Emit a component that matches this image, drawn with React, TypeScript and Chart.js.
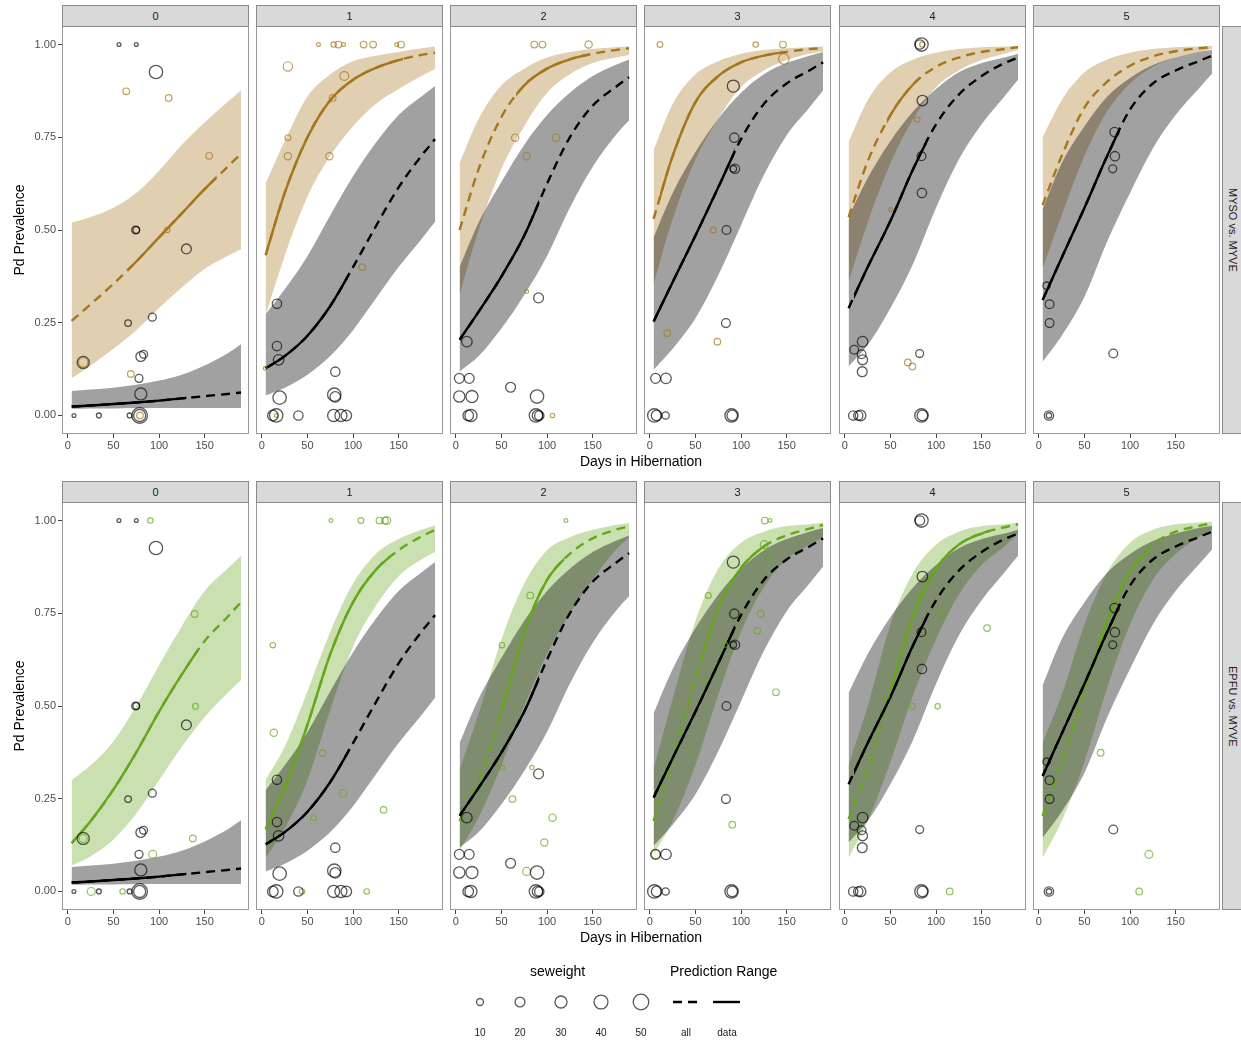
import React, { useEffect, useRef } from 'react';
import { Chart, registerables } from 'chart.js';

Chart.register(...registerables);

const FONT = '"Liberation Sans", Arial, Helvetica, sans-serif';
Chart.defaults.font.family = FONT;

// ---------- axes / labels ----------
const DAYS = [4, 25, 50, 75, 100, 125, 150, 175, 190];
const X_TICKS = [0, 50, 100, 150];
const Y_TICKS = [0, 0.25, 0.5, 0.75, 1];
const PERIODS = ['0', '1', '2', '3', '4', '5'];
const ROW_LABELS = ['MYSO vs. MYVE', 'EPFU vs. MYVE'];
const SIZE_BREAKS = [10, 20, 30, 40, 50];
const RANGE_LABELS = ['all', 'data'];

// ---------- MYVE (black), shared by both rows ----------
const MYVE_FIT = [
  [0.024, 0.027, 0.031, 0.035, 0.04, 0.046, 0.052, 0.058, 0.062],
  [0.127, 0.16, 0.215, 0.295, 0.4, 0.51, 0.615, 0.7, 0.745],
  [0.204, 0.28, 0.375, 0.485, 0.625, 0.75, 0.835, 0.885, 0.912],
  [0.253, 0.36, 0.485, 0.615, 0.745, 0.84, 0.895, 0.93, 0.952],
  [0.289, 0.4, 0.525, 0.665, 0.785, 0.865, 0.915, 0.95, 0.965],
  [0.311, 0.425, 0.56, 0.7, 0.825, 0.895, 0.93, 0.955, 0.97],
];
const MYVE_UPR = [
  [0.066, 0.07, 0.075, 0.083, 0.094, 0.11, 0.135, 0.167, 0.192],
  [0.273, 0.34, 0.43, 0.54, 0.645, 0.735, 0.81, 0.86, 0.888],
  [0.4, 0.52, 0.63, 0.73, 0.81, 0.87, 0.915, 0.945, 0.96],
  [0.48, 0.6, 0.71, 0.8, 0.87, 0.92, 0.95, 0.97, 0.98],
  [0.535, 0.64, 0.74, 0.82, 0.88, 0.925, 0.95, 0.965, 0.975],
  [0.555, 0.68, 0.78, 0.86, 0.91, 0.945, 0.965, 0.98, 0.985],
];
const MYVE_LWR = [
  [0.018, 0.019, 0.019, 0.02, 0.02, 0.02, 0.02, 0.02, 0.02],
  [0.054, 0.075, 0.11, 0.16, 0.23, 0.315, 0.4, 0.475, 0.522],
  [0.118, 0.16, 0.235, 0.325, 0.43, 0.56, 0.67, 0.755, 0.796],
  [0.123, 0.18, 0.262, 0.378, 0.513, 0.648, 0.755, 0.83, 0.876],
  [0.132, 0.19, 0.29, 0.41, 0.56, 0.69, 0.785, 0.86, 0.905],
  [0.145, 0.215, 0.32, 0.47, 0.6, 0.72, 0.81, 0.88, 0.922],
];
const MYVE_DATA_RANGE = [[4, 130], [4, 95], [4, 91], [4, 93], [10, 90], [4, 88]];
// [days, prevalence, seweight]
const MYVE_POINTS = [
  [[56, 1, 3], [75, 1, 3], [96.6, 0.926, 37], [74.3, 0.5, 13], [75, 0.5, 9], [130, 0.449, 20], [66, 0.249, 9], [92.6, 0.265, 13], [16.8, 0.143, 30], [80, 0.159, 20], [83, 0.165, 13], [78, 0.1, 13], [80, 0.058, 30], [6.6, 0, 3], [34, 0, 5], [67.7, 0, 5], [78.7, 0, 50], [78.7, 0, 30]],
  [[16.5, 0.301, 18], [16.5, 0.187, 18], [18.3, 0.15, 23], [80.5, 0.118, 18], [19.4, 0.048, 37], [79.4, 0.056, 37], [80.5, 0.05, 23], [12, 0, 23], [15.7, 0, 37], [40, 0, 18], [78.7, 0, 30], [86.7, 0, 30], [92.6, 0, 23]],
  [[12, 0.199, 23], [90.7, 0.317, 20], [3.7, 0.1, 20], [14.6, 0.1, 20], [3.7, 0.051, 26], [17.6, 0.051, 30], [60, 0.076, 20], [89, 0.051, 37], [13.5, 0, 23], [16.5, 0, 30], [87.8, 0, 37], [89.6, 0, 23], [91.5, 0, 18]],
  [[91.5, 0.888, 30], [92.6, 0.749, 18], [93.3, 0.665, 18], [91.5, 0.665, 9], [84, 0.5, 16], [83.4, 0.249, 16], [6.2, 0.1, 20], [17.6, 0.1, 23], [4.8, 0, 37], [7.3, 0, 23], [17.2, 0, 11], [89.6, 0, 37], [90.3, 0, 23]],
  [[84, 1, 37], [82.3, 1, 18], [85, 0.849, 23], [84, 0.699, 16], [84.5, 0.6, 18], [19.4, 0.199, 23], [10.2, 0.177, 16], [18.3, 0.165, 16], [19.4, 0.15, 20], [19, 0.118, 20], [82, 0.167, 13], [9.1, 0, 18], [14.6, 0, 18], [17.2, 0, 23], [84, 0, 37], [85, 0, 23]],
  [[83, 0.764, 18], [83.4, 0.699, 18], [81, 0.665, 13], [8.4, 0.35, 11], [11.7, 0.3, 16], [11.7, 0.249, 16], [81.6, 0.167, 16], [11, 0, 18], [11, 0, 6]],
];

// ---------- MYSO (brown), top row ----------
const MYSO_FIT = [
  [0.255, 0.3, 0.355, 0.415, 0.48, 0.545, 0.61, 0.67, 0.706],
  [0.432, 0.6, 0.75, 0.85, 0.905, 0.937, 0.958, 0.972, 0.978],
  [0.5, 0.665, 0.805, 0.89, 0.935, 0.96, 0.975, 0.985, 0.99],
  [0.53, 0.7, 0.845, 0.915, 0.952, 0.97, 0.98, 0.988, 0.99],
  [0.535, 0.685, 0.81, 0.893, 0.94, 0.965, 0.98, 0.988, 0.993],
  [0.567, 0.7, 0.83, 0.9, 0.943, 0.968, 0.982, 0.99, 0.993],
];
const MYSO_UPR = [
  [0.52, 0.535, 0.56, 0.6, 0.66, 0.73, 0.79, 0.845, 0.876],
  [0.625, 0.74, 0.86, 0.92, 0.955, 0.97, 0.98, 0.99, 0.995],
  [0.68, 0.8, 0.89, 0.935, 0.965, 0.98, 0.988, 0.993, 0.995],
  [0.715, 0.84, 0.92, 0.955, 0.975, 0.985, 0.99, 0.993, 0.995],
  [0.737, 0.85, 0.925, 0.96, 0.978, 0.988, 0.993, 0.995, 0.996],
  [0.75, 0.85, 0.925, 0.96, 0.978, 0.988, 0.993, 0.995, 0.997],
];
const MYSO_LWR = [
  [0.1, 0.135, 0.18, 0.23, 0.29, 0.345, 0.395, 0.43, 0.448],
  [0.27, 0.43, 0.59, 0.7, 0.78, 0.84, 0.88, 0.915, 0.935],
  [0.325, 0.5, 0.665, 0.78, 0.87, 0.92, 0.95, 0.965, 0.972],
  [0.352, 0.53, 0.69, 0.8, 0.885, 0.93, 0.958, 0.975, 0.982],
  [0.36, 0.52, 0.68, 0.8, 0.885, 0.93, 0.958, 0.975, 0.985],
  [0.396, 0.54, 0.7, 0.82, 0.895, 0.94, 0.965, 0.98, 0.988],
];
const MYSO_DATA_RANGE = [[66, 163], [4, 155], [66, 144], [11, 148], [46, 82], null];
const MYSO_POINTS = [
  [[64, 0.874, 9], [110.5, 0.856, 9], [155, 0.7, 9], [109, 0.5, 6], [69, 0.112, 9], [79, 0, 9], [16.8, 0.143, 18]],
  [[62, 1, 3], [78.7, 1, 6], [84, 1, 9], [89.6, 1, 3], [111.6, 1, 9], [122, 1, 9], [148, 1, 3], [152.6, 1, 9], [28.5, 0.941, 18], [90.4, 0.915, 16], [77.6, 0.856, 9], [28.5, 0.749, 7], [28.5, 0.699, 11], [74, 0.699, 11], [110, 0.4, 9], [3.7, 0.127, 3], [15.7, 0, 3]],
  [[86, 1, 9], [95, 1, 9], [145.6, 1, 11], [65, 0.749, 11], [110, 0.749, 11], [77.6, 0.699, 11], [77.6, 0.334, 3], [106, 0, 4]],
  [[11, 1, 7], [116, 1, 6], [146, 1, 9], [147, 0.961, 23], [69.5, 0.5, 7], [19, 0.222, 9], [74, 0.199, 9]],
  [[85, 1, 6], [79.4, 0.798, 6], [50, 0.555, 3], [69, 0.143, 9], [74, 0.132, 9]],
  [],
];

// ---------- EPFU (green), bottom row ----------
const EPFU_FIT = [
  [0.13, 0.19, 0.275, 0.375, 0.485, 0.585, 0.675, 0.74, 0.78],
  [0.168, 0.28, 0.45, 0.64, 0.78, 0.867, 0.92, 0.957, 0.975],
  [0.19, 0.3, 0.485, 0.7, 0.84, 0.91, 0.952, 0.975, 0.985],
  [0.19, 0.36, 0.575, 0.765, 0.872, 0.93, 0.96, 0.978, 0.988],
  [0.195, 0.33, 0.54, 0.745, 0.87, 0.935, 0.965, 0.982, 0.99],
  [0.204, 0.35, 0.54, 0.73, 0.862, 0.935, 0.97, 0.985, 0.993],
];
const EPFU_UPR = [
  [0.3, 0.34, 0.405, 0.5, 0.61, 0.715, 0.81, 0.87, 0.905],
  [0.3, 0.39, 0.54, 0.7, 0.83, 0.91, 0.95, 0.975, 0.987],
  [0.33, 0.48, 0.68, 0.83, 0.92, 0.955, 0.975, 0.988, 0.993],
  [0.33, 0.52, 0.73, 0.87, 0.94, 0.97, 0.985, 0.99, 0.994],
  [0.34, 0.5, 0.72, 0.86, 0.935, 0.97, 0.985, 0.99, 0.994],
  [0.4, 0.53, 0.72, 0.86, 0.94, 0.975, 0.99, 0.995, 0.997],
];
const EPFU_LWR = [
  [0.07, 0.095, 0.14, 0.21, 0.3, 0.39, 0.47, 0.535, 0.57],
  [0.09, 0.17, 0.3, 0.49, 0.66, 0.77, 0.85, 0.895, 0.915],
  [0.11, 0.2, 0.34, 0.5, 0.64, 0.75, 0.84, 0.92, 0.955],
  [0.1, 0.19, 0.34, 0.53, 0.7, 0.82, 0.895, 0.935, 0.955],
  [0.09, 0.19, 0.35, 0.53, 0.68, 0.8, 0.88, 0.93, 0.965],
  [0.09, 0.19, 0.35, 0.55, 0.72, 0.84, 0.91, 0.955, 0.975],
];
const EPFU_DATA_RANGE = [[4, 143], [4, 141], [49, 119], [57, 128], [51, 159], [65, 122]];
const EPFU_POINTS = [
  [[90.4, 1, 6], [139, 0.748, 9], [140, 0.499, 7], [137, 0.143, 9], [93, 0.1, 13], [25.6, 0, 13], [60, 0, 6], [16.8, 0.143, 13]],
  [[75.7, 1, 3], [108.7, 1, 7], [129, 1, 9], [135, 1, 9], [137, 1, 13], [12, 0.664, 6], [13, 0.428, 11], [66.6, 0.373, 9], [89, 0.265, 11], [56.7, 0.199, 7], [133.5, 0.22, 9], [44, 0, 6], [115, 0, 6]],
  [[120.7, 1, 3], [81.6, 0.798, 9], [50.5, 0.664, 6], [51, 0.334, 4], [83.4, 0.334, 4], [62, 0.249, 9], [106, 0.199, 11], [97, 0.132, 11], [77.6, 0.054, 13]],
  [[126, 1, 9], [131.7, 1, 3], [125.5, 0.935, 13], [130, 0.899, 9], [64, 0.798, 7], [121.5, 0.748, 9], [117.8, 0.703, 9], [82.3, 0.665, 6], [59.3, 0.57, 6], [138.3, 0.537, 9], [90.4, 0.18, 9], [6.2, 0.1, 16]],
  [[82.3, 0.798, 3], [105.7, 0.748, 9], [156, 0.71, 9], [45.7, 0.526, 6], [74.3, 0.499, 7], [101.7, 0.499, 6], [115, 0, 9]],
  [[67.7, 0.374, 9], [120.7, 0.1, 13], [110, 0, 9]],
];

// ---------- styling ----------
const SPECIES_LINE = ['#A6761D', '#66A61E'];
const SPECIES_BAND = ['rgba(166,118,29,0.35)', 'rgba(102,166,30,0.35)'];
const SPECIES_PT = ['rgba(166,118,29,0.7)', 'rgba(102,166,30,0.7)'];
const GRAY_BAND = 'rgba(0,0,0,0.37)';
const BLACK_PT = 'rgba(0,0,0,0.65)';
const LINE_W = 2.4;
const DASH = [9, 6];

const PANEL_LEFT = [62, 256, 450, 644, 839, 1033];
const PANEL_W = 187;
const PANEL_H = 408;
const ROW_TOP = [26, 502];
const XAXIS_H = 22;
const YAXIS_W = 62;
const X_MIN = -6.5;
const X_MAX = 198.7;

const sizeToRadius = (sw: number) => 1.1 * Math.sqrt(sw);
const curve = (ys: number[]) => DAYS.map((d, i) => ({ x: d, y: ys[i] }));

const rangeClipPlugin = {
  id: 'rangeClip',
  beforeDatasetDraw(chart: any, args: any) {
    const ds = chart.data.datasets[args.index];
    if (!ds.xRange) return;
    const { top, bottom } = chart.chartArea;
    const xs = chart.scales.x;
    const a = xs.getPixelForValue(ds.xRange[0]);
    const b = xs.getPixelForValue(ds.xRange[1]);
    const ctx = chart.ctx;
    ctx.save();
    ctx.beginPath();
    ctx.rect(a, top, b - a, bottom - top);
    ctx.clip();
  },
  afterDatasetDraw(chart: any, args: any) {
    const ds = chart.data.datasets[args.index];
    if (ds.xRange) chart.ctx.restore();
  },
};

const panelBorderPlugin = {
  id: 'panelBorder',
  afterDraw(chart: any) {
    const { left, top, width, height } = chart.chartArea;
    const ctx = chart.ctx;
    ctx.save();
    ctx.strokeStyle = '#9a9a9a';
    ctx.lineWidth = 1;
    ctx.strokeRect(Math.round(left) + 0.5, Math.round(top) + 0.5, Math.round(width) - 1, Math.round(height) - 1);
    ctx.restore();
  },
};

function buildConfig(row: number, col: number): any {
  const sp = row === 0
    ? { fit: MYSO_FIT, upr: MYSO_UPR, lwr: MYSO_LWR, range: MYSO_DATA_RANGE, pts: MYSO_POINTS }
    : { fit: EPFU_FIT, upr: EPFU_UPR, lwr: EPFU_LWR, range: EPFU_DATA_RANGE, pts: EPFU_POINTS };
  const base = { pointRadius: 0, pointHoverRadius: 0, cubicInterpolationMode: 'monotone', fill: false };
  const ds: any[] = [];

  // bands (species first, MYVE over it)
  ds.push({ ...base, data: curve(sp.lwr[col]), borderWidth: 0, order: 30 });
  ds.push({ ...base, data: curve(sp.upr[col]), borderWidth: 0, fill: '-1', backgroundColor: SPECIES_BAND[row], order: 30 });
  ds.push({ ...base, data: curve(MYVE_LWR[col]), borderWidth: 0, order: 20 });
  ds.push({ ...base, data: curve(MYVE_UPR[col]), borderWidth: 0, fill: '-1', backgroundColor: GRAY_BAND, order: 20 });

  // lines
  ds.push({ ...base, data: curve(sp.fit[col]), borderColor: SPECIES_LINE[row], borderWidth: LINE_W, borderDash: DASH, order: 15 });
  if (sp.range[col]) {
    ds.push({ ...base, data: curve(sp.fit[col]), borderColor: SPECIES_LINE[row], borderWidth: LINE_W, xRange: sp.range[col], order: 14 });
  }
  ds.push({ ...base, data: curve(MYVE_FIT[col]), borderColor: '#000', borderWidth: LINE_W, borderDash: DASH, order: 13 });
  ds.push({ ...base, data: curve(MYVE_FIT[col]), borderColor: '#000', borderWidth: LINE_W, xRange: MYVE_DATA_RANGE[col], order: 12 });

  // points
  const spPts = sp.pts[col];
  ds.push({
    data: spPts.map((p) => ({ x: p[0], y: p[1] })),
    showLine: false,
    pointRadius: spPts.map((p) => sizeToRadius(p[2])),
    pointHoverRadius: spPts.map((p) => sizeToRadius(p[2])),
    pointBorderColor: SPECIES_PT[row],
    pointBackgroundColor: 'rgba(0,0,0,0)',
    pointBorderWidth: 1.2,
    order: 2,
  });
  const bPts = MYVE_POINTS[col];
  ds.push({
    data: bPts.map((p) => ({ x: p[0], y: p[1] })),
    showLine: false,
    pointRadius: bPts.map((p) => sizeToRadius(p[2])),
    pointHoverRadius: bPts.map((p) => sizeToRadius(p[2])),
    pointBorderColor: BLACK_PT,
    pointBackgroundColor: 'rgba(0,0,0,0)',
    pointBorderWidth: 1.3,
    order: 1,
  });

  const yScale: any = {
    type: 'linear',
    min: -0.05,
    max: 1.05,
    display: col === 0,
    afterBuildTicks: (s: any) => { s.ticks = Y_TICKS.map((v) => ({ value: v })); },
    grid: { display: true, drawOnChartArea: false, drawTicks: true, tickLength: 4, color: '#444', lineWidth: 1 },
    border: { display: false },
    ticks: {
      font: { size: 11, family: FONT },
      color: '#4d4d4d',
      padding: 2,
      autoSkip: false,
      callback: (v: any) => Number(v).toFixed(2),
    },
    title: {
      display: true,
      text: 'Pd Prevalence',
      color: '#000',
      font: { size: 14, family: FONT },
      padding: { top: 12, bottom: 0 },
    },
  };
  if (col === 0) {
    yScale.afterFit = (s: any) => {
      s.width = YAXIS_W;
      s.paddingTop = 0;
      s.paddingBottom = 0;
    };
  }

  return {
    type: 'line',
    data: { datasets: ds },
    options: {
      animation: false,
      responsive: false,
      maintainAspectRatio: false,
      events: [],
      layout: { padding: 0, autoPadding: false },
      plugins: { legend: { display: false }, tooltip: { enabled: false } },
      scales: {
        x: {
          type: 'linear',
          min: X_MIN,
          max: X_MAX,
          afterBuildTicks: (s: any) => { s.ticks = X_TICKS.map((v) => ({ value: v })); },
          afterFit: (s: any) => {
            s.height = XAXIS_H;
            s.paddingLeft = 0;
            s.paddingRight = 0;
          },
          grid: { display: true, drawOnChartArea: false, drawTicks: true, tickLength: 4, color: '#444', lineWidth: 1 },
          border: { display: false },
          ticks: {
            font: { size: 11, family: FONT },
            color: '#4d4d4d',
            padding: 1,
            maxRotation: 0,
            autoSkip: false,
            callback: (v: any) => String(v),
          },
        },
        y: yScale,
      },
    },
    plugins: [rangeClipPlugin, panelBorderPlugin],
  };
}

function Panel({ row, col }: { row: number; col: number }) {
  const ref = useRef<HTMLCanvasElement>(null);
  const left = col === 0 ? PANEL_LEFT[0] - YAXIS_W : PANEL_LEFT[col];
  const width = col === 0 ? PANEL_W + YAXIS_W : PANEL_W;
  const height = PANEL_H + XAXIS_H;
  useEffect(() => {
    const chart = new Chart(ref.current as HTMLCanvasElement, buildConfig(row, col));
    return () => chart.destroy();
  }, [row, col]);
  return (
    <canvas
      ref={ref}
      width={width}
      height={height}
      style={{ position: 'absolute', left, top: ROW_TOP[row], width, height }}
    />
  );
}

export default function App() {
  const strips: any[] = [];
  [0, 1].forEach((r) => {
    PERIODS.forEach((p, c) => {
      strips.push(
        <div
          key={`s${r}${c}`}
          style={{
            position: 'absolute', left: PANEL_LEFT[c], top: ROW_TOP[r] - 21, width: PANEL_W, height: 22,
            boxSizing: 'border-box', background: '#d9d9d9', border: '1px solid #8a8a8a',
            fontFamily: FONT, fontSize: 11, color: '#1a1a1a', display: 'flex', alignItems: 'center', justifyContent: 'center',
          }}
        >{p}</div>
      );
    });
    strips.push(
      <div
        key={`r${r}`}
        style={{
          position: 'absolute', left: 1222, top: ROW_TOP[r], width: 22, height: PANEL_H,
          boxSizing: 'border-box', background: '#d9d9d9', border: '1px solid #8a8a8a',
          fontFamily: FONT, fontSize: 11, color: '#1a1a1a', display: 'flex', alignItems: 'center', justifyContent: 'center',
        }}
      >
        <span style={{ writingMode: 'vertical-rl', whiteSpace: 'nowrap' }}>{ROW_LABELS[r]}</span>
      </div>
    );
    strips.push(
      <div
        key={`xt${r}`}
        style={{
          position: 'absolute', left: PANEL_LEFT[0], width: PANEL_LEFT[5] + PANEL_W - PANEL_LEFT[0],
          top: ROW_TOP[r] + PANEL_H + 19, textAlign: 'center', fontFamily: FONT, fontSize: 14, color: '#000', lineHeight: '16px',
        }}
      >Days in Hibernation</div>
    );
  });

  const circleX = [480, 520, 561, 601, 641];
  const panels: any[] = [];
  [0, 1].forEach((r) => PERIODS.forEach((_, c) => panels.push(<Panel key={`p${r}${c}`} row={r} col={c} />)));

  return (
    <div style={{ position: 'absolute', left: 0, top: 0, width: 1241, height: 1042, overflow: 'hidden', background: '#fff' }}>
      {panels}
      {strips}
      <svg style={{ position: 'absolute', left: 0, top: 0 }} width={1241} height={1042}>
        <text x={530} y={976} fontFamily={FONT} fontSize={14} fill="#000">seweight</text>
        {SIZE_BREAKS.map((s, i) => (
          <g key={s}>
            <circle cx={circleX[i]} cy={1002} r={sizeToRadius(s)} fill="none" stroke={BLACK_PT} strokeWidth={1.3} />
            <text x={circleX[i]} y={1036} textAnchor="middle" fontFamily={FONT} fontSize={10} fill="#1a1a1a">{s}</text>
          </g>
        ))}
        <text x={670} y={976} fontFamily={FONT} fontSize={14} fill="#000">Prediction Range</text>
        <line x1={673} y1={1002} x2={700} y2={1002} stroke="#000" strokeWidth={LINE_W} strokeDasharray="9 6" />
        <line x1={713} y1={1002} x2={740} y2={1002} stroke="#000" strokeWidth={LINE_W} />
        <text x={686} y={1036} textAnchor="middle" fontFamily={FONT} fontSize={10} fill="#1a1a1a">{RANGE_LABELS[0]}</text>
        <text x={727} y={1036} textAnchor="middle" fontFamily={FONT} fontSize={10} fill="#1a1a1a">{RANGE_LABELS[1]}</text>
      </svg>
    </div>
  );
}
